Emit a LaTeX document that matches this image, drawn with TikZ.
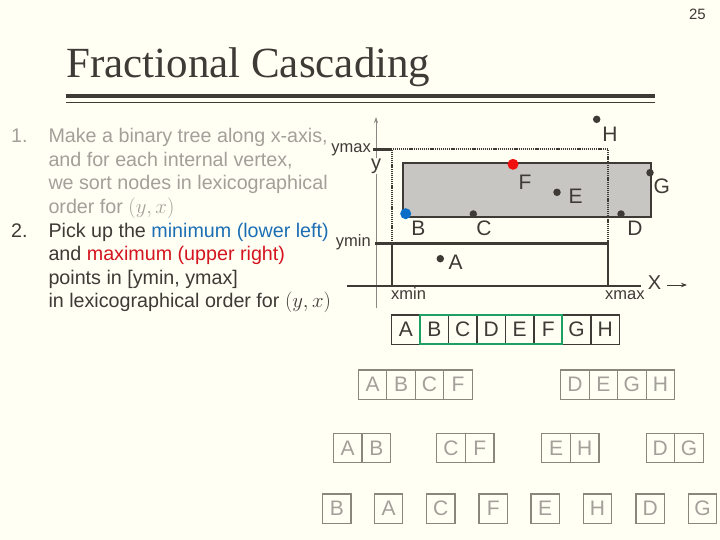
\documentclass[tikz,border=0pt]{standalone}
\usepackage{fontspec}
\setmainfont{Liberation Sans}
\newfontfamily\titlefont{Liberation Serif}
\usetikzlibrary{arrows.meta}
\definecolor{bg}{RGB}{255,255,244}
\definecolor{ink}{RGB}{62,58,54}
\definecolor{lgray}{RGB}{163,160,154}
\definecolor{boxgray}{RGB}{138,134,126}
\definecolor{axgray}{RGB}{140,137,132}
\definecolor{rectfill}{RGB}{200,198,194}
\definecolor{grn}{RGB}{30,160,100}
\definecolor{myblue}{RGB}{28,110,180}
\definecolor{myred}{RGB}{212,20,30}
\definecolor{ptblue}{RGB}{10,110,200}
\definecolor{ptred}{RGB}{240,16,16}
\begin{document}
\begin{tikzpicture}[x=1pt,y=-1pt,
  txt/.style={anchor=base west, inner sep=0, font=\fontsize{19.7}{23}\selectfont},
  cell/.style={draw=ink, line width=1.4pt, minimum width=28.4pt, minimum height=29.3pt,
    inner sep=0, outer sep=0, font=\fontsize{21}{21}\selectfont, text=ink},
  gcell/.style={cell, draw=boxgray, text=lgray, line width=1.2pt},
  dot/.style={circle, fill=ink, inner sep=0, minimum size=7.5pt},
  bigdot/.style={circle, inner sep=0, minimum size=11pt},
  plabel/.style={font=\fontsize{21}{21}\selectfont, text=ink, inner sep=0},
  axlabel/.style={font=\fontsize{16.5}{16.5}\selectfont, text=ink, inner sep=0}]
\fill[bg] (0,0) rectangle (720,540);
\useasboundingbox (0,0) rectangle (720,540);

% page number and title
\node[anchor=base east, inner sep=0, text=ink, font=\fontsize{15}{15}\selectfont] (pg) at (706,20) {25};
\node[anchor=base west, inner sep=0, text=ink, font=\titlefont\fontsize{43}{43}\selectfont] (title) at (66,78) {Fractional Cascading};
\fill[ink] (66,94.3) rectangle (655,97.7);
\fill[ink] (66,101.7) rectangle (655,103.5);

% list
\node[txt, text=lgray] (n1) at (11,143) {1.};
\node[txt, text=lgray] (l1) at (48.3,143) {Make a binary tree along x-axis,};
\node[txt, text=lgray] (l2) at (48.3,166.5) {and for each internal vertex,};
\node[txt, text=lgray] (l3) at (48.3,190) {we sort nodes in lexicographical};
\node[txt, text=lgray] (l4) at (48.3,213.5) {order for $(y,x)$};
\node[txt, text=ink] (n2) at (11,237) {2.};
\node[txt, text=ink] (l5) at (48.3,237) {Pick up the \textcolor{myblue}{minimum (lower left)}};
\node[txt, text=ink] (l6) at (48.3,260.5) {and \textcolor{myred}{maximum (upper right)}};
\node[txt, text=ink] (l7) at (48.3,284) {points in [ymin, ymax]};
\node[txt, text=ink] (l8) at (48.3,307.5) {in lexicographical order for $(y,x)$};

% axes
\draw[axgray, line width=0.9pt, -{Stealth[length=6pt,width=4pt]}] (376,308) -- (376,117);
\draw[ink, line width=1.3pt] (347,286) -- (641,286);
\node[font=\fontsize{20}{20}\selectfont, text=ink, fill=bg, inner sep=1pt] (ylab) at (376,166) {y};
\node[font=\fontsize{20}{20}\selectfont, text=ink, inner sep=0] (xlab) at (654.5,283) {X};
\coordinate (xa1) at (667,285);
\coordinate (xa2) at (687,285);
\draw[ink, line width=1pt, -{Stealth[length=6pt,width=4.5pt]}] (xa1) -- (xa2);

% query range
\node[axlabel, anchor=base east] (ymaxl) at (371,153) {ymax};
\node[axlabel, anchor=base east] (yminl) at (371,246.7) {ymin};
\node[axlabel, anchor=base west] (xminl) at (391,299.3) {xmin};
\node[axlabel, anchor=base west] (xmaxl) at (605,299.3) {xmax};

\draw[ink, line width=2.5pt] (373,149.3) -- (392,149.3);
\draw[ink, line width=2.6pt] (375,243.3) -- (608,243.3);
\draw[ink, line width=2.8pt] (392,243.3) -- (392,286);
\draw[ink, line width=2.8pt] (608,243.3) -- (608,286);

% gray rectangle
\filldraw[fill=rectfill, draw=ink, line width=2pt] (402.7,162.7) rectangle (651,217.3);

% dotted box
\draw[ink, line width=1.8pt, dash pattern=on 1.2pt off 0.9pt] (392,243.3) -- (392,149.3) -- (608,149.3) -- (608,243.3);

% points
\node[dot] (pH) at (596.7,119.3) {};
\node[plabel] (tH) at (610,134) {H};
\node[bigdot, fill=ptred] (pF) at (513,164.3) {};
\node[plabel] (tF) at (525,182) {F};
\node[dot] (pE) at (557,192.3) {};
\node[plabel] (tE) at (575.7,196.7) {E};
\node[dot] (pG) at (650,172.7) {};
\node[plabel] (tG) at (661.7,186) {G};
\node[bigdot, fill=ptblue] (pB) at (405.7,213.7) {};
\node[plabel] (tB) at (418.3,228.3) {B};
\node[dot] (pC) at (473.3,214) {};
\node[plabel] (tC) at (484,228.3) {C};
\node[dot] (pD) at (621,214) {};
\node[plabel] (tD) at (635,228.3) {D};
\node[dot] (pA) at (440.3,258.7) {};
\node[plabel] (tA) at (455.7,262.3) {A};

% level 1
\node[cell] (cA) at (405.9,329.7) {A};
\node[cell] (cB) at (434.4,329.7) {B};
\node[cell] (cC) at (462.8,329.7) {C};
\node[cell] (cD) at (491.3,329.7) {D};
\node[cell] (cE) at (519.7,329.7) {E};
\node[cell] (cF) at (548.2,329.7) {F};
\node[cell] (cG) at (576.6,329.7) {G};
\node[cell] (cH) at (605.1,329.7) {H};
\draw[grn, line width=2pt] (cB.north west) rectangle (cF.south east);

% level 2
\node[gcell] (a2) at (372.5,384.7) {A};
\node[gcell] (b2) at (401,384.7) {B};
\node[gcell] (c2) at (429.5,384.7) {C};
\node[gcell] (f2) at (458,384.7) {F};
\node[gcell] (d2) at (574.9,384.7) {D};
\node[gcell] (e2) at (603.4,384.7) {E};
\node[gcell] (g2) at (631.9,384.7) {G};
\node[gcell] (h2) at (660.4,384.7) {H};

% level 3
\node[gcell] (a3) at (347.6,447.8) {A};
\node[gcell] (b3) at (376.3,447.8) {B};
\node[gcell] (c3) at (451,447.8) {C};
\node[gcell] (f3) at (479.7,447.8) {F};
\node[gcell] (e3) at (556,447.8) {E};
\node[gcell] (h3) at (584.7,447.8) {H};
\node[gcell] (d3) at (660.3,447.8) {D};
\node[gcell] (g3) at (689,447.8) {G};

% level 4
\node[gcell] (b4) at (336.8,508.7) {B};
\node[gcell] (a4) at (388.5,508.7) {A};
\node[gcell] (c4) at (440.8,508.7) {C};
\node[gcell] (f4) at (493.2,508.7) {F};
\node[gcell] (e4) at (545.2,508.7) {E};
\node[gcell] (h4) at (597.5,508.7) {H};
\node[gcell] (d4) at (650.2,508.7) {D};
\node[gcell] (g4) at (702.5,508.7) {G};
\end{tikzpicture}
\end{document}
